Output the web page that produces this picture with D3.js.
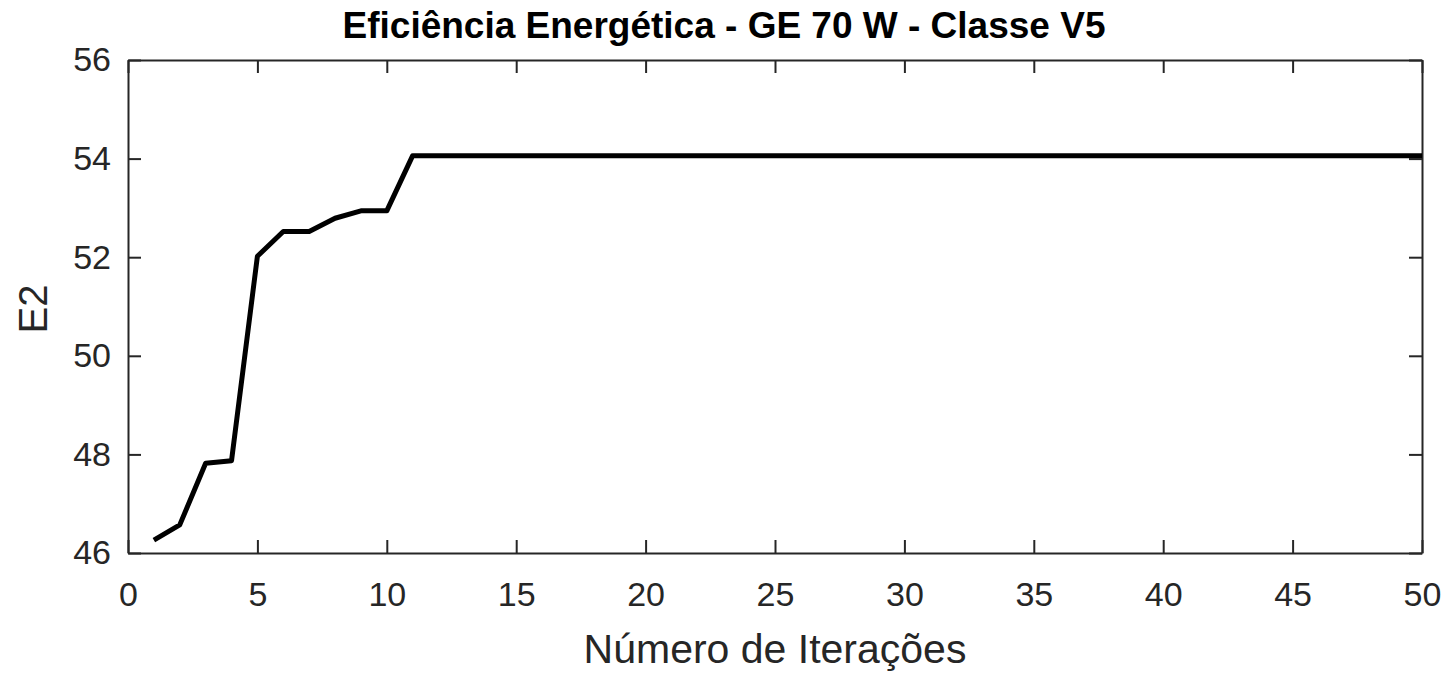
<!DOCTYPE html>
<html>
<head>
<meta charset="utf-8">
<script src="https://cdn.jsdelivr.net/npm/d3@7"></script>
<style>
  html, body { margin: 0; padding: 0; background: #fff; }
  svg text { font-family: "Liberation Sans", Arial, Helvetica, sans-serif; }
</style>
</head>
<body>
<svg id="chart" width="1448" height="678"></svg>
<script>
// Iterations and energy efficiency (E2) per iteration
const iterations = d3.range(1, 51);
const e2Values = [
  46.26, 46.57, 47.82, 47.87, 52.02, 52.52, 52.52, 52.79, 52.94, 52.94,
  54.06, 54.06, 54.06, 54.06, 54.06, 54.06, 54.06, 54.06, 54.06, 54.06,
  54.06, 54.06, 54.06, 54.06, 54.06, 54.06, 54.06, 54.06, 54.06, 54.06,
  54.06, 54.06, 54.06, 54.06, 54.06, 54.06, 54.06, 54.06, 54.06, 54.06,
  54.06, 54.06, 54.06, 54.06, 54.06, 54.06, 54.06, 54.06, 54.06, 54.06
];
const xTicks = [0, 5, 10, 15, 20, 25, 30, 35, 40, 45, 50];
const yTicks = [46, 48, 50, 52, 54, 56];

const titleText = "Eficiência Energética - GE 70 W - Classe V5";
const xLabel = "Número de Iterações";
const yLabel = "E2";

const svg = d3.select("#chart");
const plotLeft = 128, plotRight = 1422, plotTop = 60, plotBottom = 553;
const axisColor = "#262626";
const tickLen = 13;

const x = d3.scaleLinear().domain([0, 50]).range([plotLeft, plotRight]);
const y = d3.scaleLinear().domain([46, 56]).range([plotBottom, plotTop]);

// Box axes with inward ticks on all four sides
const g = svg.append("g");

const bottomAxis = g.append("g").attr("transform", `translate(0,${plotBottom})`)
  .call(d3.axisBottom(x).tickValues(xTicks).tickSizeInner(-tickLen).tickSizeOuter(0).tickPadding(29).tickFormat(d3.format("d")));
const topAxis = g.append("g").attr("transform", `translate(0,${plotTop})`)
  .call(d3.axisTop(x).tickValues(xTicks).tickSizeInner(-tickLen).tickSizeOuter(0).tickFormat(""));
const leftAxis = g.append("g").attr("transform", `translate(${plotLeft},0)`)
  .call(d3.axisLeft(y).tickValues(yTicks).tickSizeInner(-tickLen).tickSizeOuter(0).tickPadding(17).tickFormat(d3.format("d")));
const rightAxis = g.append("g").attr("transform", `translate(${plotRight},0)`)
  .call(d3.axisRight(y).tickValues(yTicks).tickSizeInner(-tickLen).tickSizeOuter(0).tickFormat(""));

[bottomAxis, topAxis, leftAxis, rightAxis].forEach(a => {
  a.selectAll("path.domain").attr("stroke", axisColor).attr("stroke-width", 2);
  a.selectAll(".tick line").attr("stroke", axisColor).attr("stroke-width", 2);
  a.selectAll(".tick text").attr("fill", axisColor).style("font-size", "34px")
    .style("font-family", '"Liberation Sans", Arial, sans-serif');
});

// E2 series line
const line = d3.line()
  .x((d, i) => x(iterations[i]))
  .y(d => y(d));

svg.append("path")
  .datum(e2Values)
  .attr("fill", "none")
  .attr("stroke", "#000")
  .attr("stroke-width", 5)
  .attr("stroke-linejoin", "round")
  .attr("d", line);

// Title and axis labels
svg.append("text")
  .attr("x", 724).attr("y", 38)
  .attr("text-anchor", "middle")
  .style("font-size", "37px").style("font-weight", "bold")
  .attr("fill", "#000")
  .text(titleText);

svg.append("text")
  .attr("x", (plotLeft + plotRight) / 2).attr("y", 663)
  .attr("text-anchor", "middle")
  .style("font-size", "41px")
  .attr("fill", axisColor)
  .text(xLabel);

svg.append("text")
  .attr("transform", `translate(47,309) rotate(-90)`)
  .attr("text-anchor", "middle")
  .style("font-size", "40px")
  .attr("fill", axisColor)
  .text(yLabel);
</script>
</body>
</html>
